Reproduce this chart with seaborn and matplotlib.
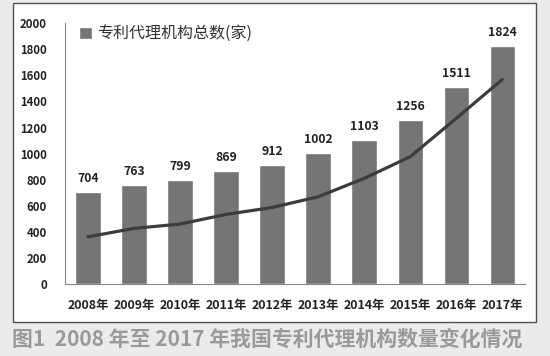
import matplotlib
matplotlib.use("Agg")
import matplotlib.pyplot as plt
from matplotlib.patches import Rectangle
import seaborn as sns
import pandas as pd

years = ["2008年", "2009年", "2010年", "2011年", "2012年",
         "2013年", "2014年", "2015年", "2016年", "2017年"]
counts = [704, 763, 799, 869, 912, 1002, 1103, 1256, 1511, 1824]
# trend line
trend = [362, 427, 460, 534, 587, 669, 810, 976, 1270, 1568]
yticks = [0, 200, 400, 600, 800, 1000, 1200, 1400, 1600, 1800, 2000]

sns.set_style("white")
plt.rcParams['font.family'] = ['Noto Sans CJK SC', 'DejaVu Sans']

df = pd.DataFrame({"year": years, "count": counts, "trend": trend})

fig = plt.figure(figsize=(5.5, 3.56), dpi=100, facecolor='#ebebeb')

# white panel with border
fig.patches.append(Rectangle((0.0236, 0.0955), 0.951, 0.896, transform=fig.transFigure,
                             facecolor='white', edgecolor='#505050', lw=1.0, zorder=-5))

ax = fig.add_axes([0.118, 0.202, 0.837, 0.733])
ax.set_facecolor('none')
ax.set_zorder(2)

sns.barplot(data=df, x="year", y="count", color='#757575', width=0.55,
            saturation=1, ax=ax, label="专利代理机构总数(家)")
sns.pointplot(data=df, x="year", y="trend", color='#3c3c3c', markers="",
              linestyles="-", linewidth=2.3, errorbar=None, ax=ax)

ax.bar_label(ax.containers[0], padding=5, fontsize=8.8, fontweight='bold', color='#222222')

ax.set_ylim(0, 2000)
ax.set_yticks(yticks)
ax.set_xlabel("")
ax.set_ylabel("")
ax.tick_params(axis='y', labelsize=8.2, pad=13, length=0)
ax.tick_params(axis='x', labelsize=8.9, pad=11, length=0)
for t in ax.get_xticklabels() + ax.get_yticklabels():
    t.set_fontweight('bold')
    t.set_color('#222222')

sns.despine(ax=ax, top=True, right=True)
ax.spines['left'].set_color('#888888')
ax.spines['bottom'].set_color('#888888')

leg = ax.legend(loc='upper left', bbox_to_anchor=(0.0, 1.045), frameon=False,
                fontsize=11.5, handlelength=0.8, handleheight=0.8, handletextpad=0.3)
for t in leg.get_texts():
    t.set_color('#333333')

fig.text(0.022, 0.048, "图1  2008 年至 2017 年我国专利代理机构数量变化情况",
         fontsize=15, fontweight='bold', color='#9a9a9a', va='center', ha='left')

fig.savefig("out.png", dpi=100, facecolor=fig.get_facecolor())
